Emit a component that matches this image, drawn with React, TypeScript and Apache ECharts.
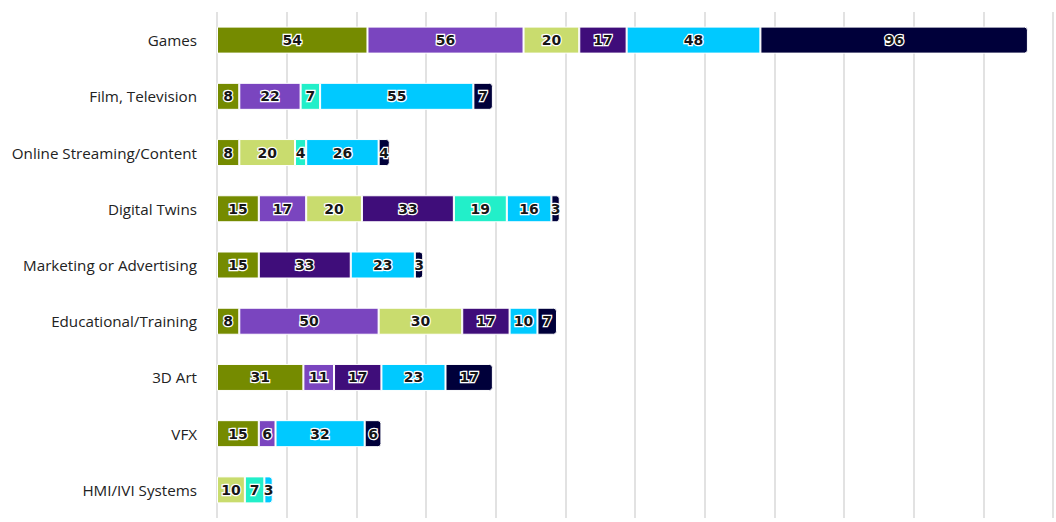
import React, { useEffect, useRef } from "react";
import * as echarts from "echarts";

const categories = [
  "Games",
  "Film, Television",
  "Online Streaming/Content",
  "Digital Twins",
  "Marketing or Advertising",
  "Educational/Training",
  "3D Art",
  "VFX",
  "HMI/IVI Systems",
];

// one array per colour segment, in stacking order (null = no segment)
const seriesOlive = [54, 8, 8, 15, 15, 8, 31, 15, null];
const seriesPurple = [56, 22, null, 17, null, 50, 11, 6, null];
const seriesLime = [20, null, 20, 20, null, 30, null, null, 10];
const seriesDarkPurple = [17, null, null, 33, 33, 17, 17, null, null];
const seriesMint = [null, 7, 4, 19, null, null, null, null, 7];
const seriesBlue = [48, 55, 26, 16, 23, 10, 23, 32, 3];
const seriesNavy = [96, 7, 4, 3, 3, 7, 17, 6, null];

const seriesList = [
  { name: "A", color: "#758b00", data: seriesOlive },
  { name: "B", color: "#7a45bf", data: seriesPurple },
  { name: "C", color: "#c9dc6e", data: seriesLime },
  { name: "D", color: "#3f0d7a", data: seriesDarkPurple },
  { name: "E", color: "#22efc9", data: seriesMint },
  { name: "F", color: "#00c9ff", data: seriesBlue },
  { name: "G", color: "#00003a", data: seriesNavy },
];

const xMin = 0;
const xMax = 300;
const xInterval = 25;

export default function App() {
  const ref = useRef<HTMLDivElement>(null);
  useEffect(() => {
    if (!ref.current) return;
    const chart = echarts.init(ref.current, undefined, { renderer: "svg" });

    const lastIdx = categories.map((_, ci) => {
      let last = -1;
      seriesList.forEach((s, si) => {
        if (s.data[ci] != null) last = si;
      });
      return last;
    });

    const series = seriesList.map((s, si) => ({
      name: s.name,
      type: "bar",
      stack: "total",
      barWidth: 27,
      itemStyle: { color: s.color, borderColor: "#ffffff", borderWidth: 1 },
      label: {
        show: true,
        position: "inside",
        fontFamily: "DejaVu Sans",
        fontWeight: "bold",
        fontSize: 14,
        color: "#161616",
        textBorderColor: "#ffffff",
        textBorderWidth: 2.5,
      },
      data: s.data.map((v, ci) =>
        v == null
          ? null
          : {
              value: v,
              itemStyle:
                lastIdx[ci] === si ? { borderRadius: [0, 3, 3, 0] } : undefined,
            }
      ),
    }));

    chart.setOption({
      animation: false,
      grid: { left: 217, right: 3, top: 12, bottom: 4, containLabel: false },
      xAxis: {
        type: "value",
        min: xMin,
        max: xMax,
        interval: xInterval,
        axisLabel: { show: false },
        axisLine: { show: false },
        axisTick: { show: false },
        splitLine: { show: true, lineStyle: { color: "#d9d9d9", width: 1.5 } },
      },
      yAxis: {
        type: "category",
        data: categories,
        inverse: true,
        axisLine: { show: false },
        axisTick: { show: false },
        axisLabel: {
          margin: 20,
          fontFamily: "Open Sans",
          fontSize: 15.2,
          color: "#222222",
        },
      },
      series,
    });
    return () => chart.dispose();
  }, []);
  return (
    <div
      ref={ref}
      style={{ position: "fixed", left: 0, top: 0, width: 1056, height: 522, background: "#fff" }}
    />
  );
}
